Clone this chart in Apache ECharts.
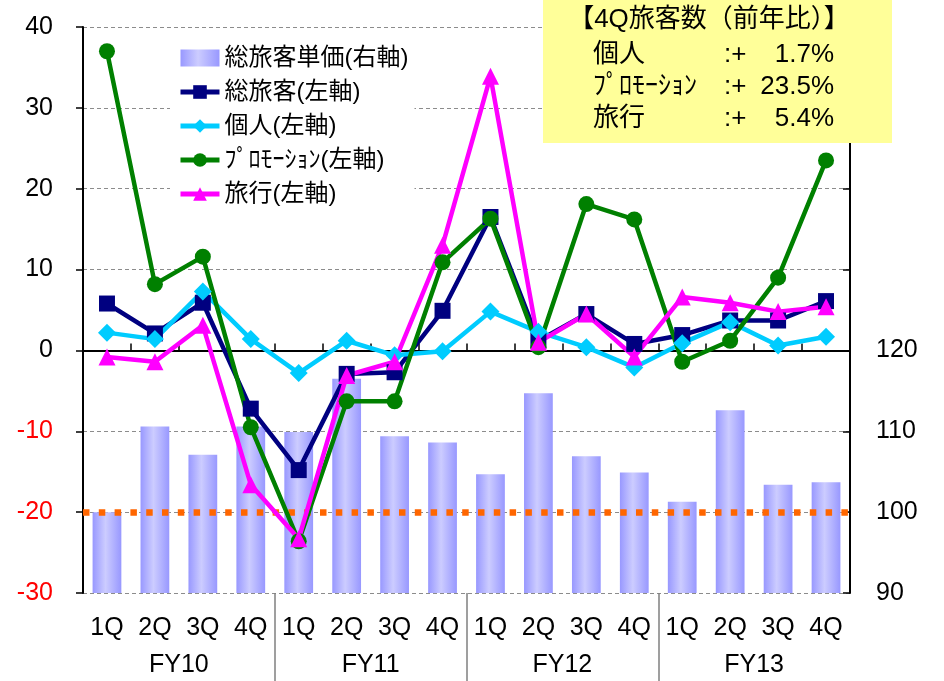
<!DOCTYPE html>
<html><head><meta charset="utf-8">
<script src="https://cdn.jsdelivr.net/npm/echarts@6/dist/echarts.min.js"></script>
<style>html,body{margin:0;padding:0;background:#fff}#c{width:944px;height:681px}</style>
</head><body><div id="c"></div>
<script>
// ---- data ----
const quarters = ['1Q','2Q','3Q','4Q','1Q','2Q','3Q','4Q','1Q','2Q','3Q','4Q','1Q','2Q','3Q','4Q'];
const fiscalYears = ['FY10','FY11','FY12','FY13'];
const unitPrice  = [100.0,110.6,107.1,110.6, 109.9,116.5,109.4,108.6, 104.7,114.7,106.9,104.9, 101.3,112.6,103.4,103.7];
const totalPax   = [5.8,2.1,5.9,-7.2, -14.8,-2.9,-2.7,4.9, 16.5,1.2,4.5,0.8, 1.9,3.7,3.7,6.1];
const individual = [2.2,1.4,7.3,1.4, -2.8,1.2,-0.6,-0.1, 4.8,2.3,0.4,-2.1, 0.9,3.5,0.6,1.7];
const promotion  = [37.0,8.2,11.6,-9.5, -23.6,-6.3,-6.3,10.9, 16.3,0.4,18.1,16.2, -1.4,1.2,9.0,23.5];
const travel     = [-0.8,-1.4,3.1,-16.6, -23.3,-3.1,-1.4,13.0, 33.9,1.0,4.5,-0.8, 6.6,5.9,4.8,5.4];
const priceBaseline = 100;
const seriesNames = ['総旅客単価(右軸)','総旅客(左軸)','個人(左軸)','ﾌﾟﾛﾓｰｼｮﾝ(左軸)','旅行(左軸)'];
const boxTitle = '【4Q旅客数（前年比）】';
const boxRows = [['個人','1.7%'],['ﾌﾟﾛﾓｰｼｮﾝ','23.5%'],['旅行','5.4%']];
const fyTickValues = [4,8,12];
const fyLabelValues = [2,6,10,14];

const FONT = "'Liberation Sans','Noto Sans CJK JP',sans-serif";
const AX = 25;
const chart = echarts.init(document.getElementById('c'), null, {renderer:'canvas'});

function lineSeries(name, data, color, symbol, size) {
  return {
    name, type:'line', data, xAxisIndex:0, yAxisIndex:0, z:3,
    symbol, symbolSize:size,
    lineStyle:{color, width:4.5},
    itemStyle:{color},
    emphasis:{disabled:true}, animation:false
  };
}

const barGrad = new echarts.graphic.LinearGradient(0,0,1,0,[
  {offset:0,color:'#9898FF'},{offset:0.45,color:'#CCCCFF'},{offset:1,color:'#9898FF'}
]);

const boxGraphics = [
  {type:'rect', left:543, top:0, z:100, shape:{width:349, height:143}, style:{fill:'#FFFF99'}},
  {type:'text', x:709, y:20, z:101, style:{text:boxTitle, font:'26px '+FONT, fill:'#000', align:'center', verticalAlign:'middle'}}
];
boxRows.forEach((r,i)=>{
  const y = 55 + i*32;
  boxGraphics.push({type:'text', x:593, y, z:101, style:{text:r[0], font:'26px '+FONT, fill:'#000', verticalAlign:'middle'}});
  boxGraphics.push({type:'text', x:724, y, z:101, style:{text:':+', font:'26px '+FONT, fill:'#000', verticalAlign:'middle'}});
  boxGraphics.push({type:'text', x:834, y, z:101, style:{text:r[1], font:'26px '+FONT, fill:'#000', align:'right', verticalAlign:'middle'}});
});

chart.setOption({
  animation:false,
  textStyle:{fontFamily:FONT},
  grid:{left:83, right:94, top:27, bottom:88, containLabel:false},
  legend:{
    orient:'vertical', left:170, top:40, itemWidth:39, itemHeight:17, itemGap:10,
    backgroundColor:'#fff', padding:[6,6,6,8],
    textStyle:{fontSize:24, color:'#000', fontFamily:FONT},
    lineStyle:{width:5},
    data:[{name:seriesNames[0], icon:'rect'}, seriesNames[1], seriesNames[2], seriesNames[3], seriesNames[4]],
    selectedMode:false
  },
  xAxis:[
    {type:'category', data:quarters, boundaryGap:true,
     axisLine:{onZero:true, onZeroAxisIndex:0, lineStyle:{color:'#000', width:2}},
     axisTick:{show:true, inside:true, length:7, lineStyle:{color:'#000', width:1.5}},
     axisLabel:{show:false}, splitLine:{show:false}},
    {type:'category', data:quarters, boundaryGap:true,
     axisLine:{show:false, onZero:true, onZeroAxisIndex:0},
     axisTick:{show:true, inside:false, length:7, lineStyle:{color:'#000', width:1.5}},
     axisLabel:{show:false}, splitLine:{show:false}},
    {type:'category', data:quarters, boundaryGap:true, position:'bottom',
     axisLine:{show:false, onZero:false}, axisTick:{show:false},
     axisLabel:{show:true, interval:0, margin:23, fontSize:AX, color:'#000', fontFamily:FONT},
     splitLine:{show:false}},
    {type:'value', min:0, max:quarters.length, position:'bottom',
     axisLine:{show:false, onZero:false},
     axisTick:{show:true, customValues:fyTickValues, length:88, inside:false, lineStyle:{color:'#808080', width:1.5}},
     axisLabel:{show:true, customValues:fyLabelValues, margin:60, fontSize:AX, color:'#000', fontFamily:FONT,
       formatter:(v)=>fiscalYears[Math.round((v-2)/4)]},
     splitLine:{show:false}}
  ],
  yAxis:[
    {type:'value', min:-30, max:40, interval:10, position:'left',
     axisLine:{show:true, lineStyle:{color:'#000', width:2}},
     axisTick:{show:true, inside:false, length:7, lineStyle:{color:'#000', width:1.5}},
     axisLabel:{margin:30, fontSize:AX, fontFamily:FONT, color:(v)=> Number(v) < 0 ? '#FF0000' : '#000'},
     splitLine:{show:true, lineStyle:{color:'#8C8C8C', width:1, type:[4,3]}}},
    {type:'value', min:90, max:160, interval:10, position:'right',
     axisLine:{show:true, lineStyle:{color:'#000', width:2}},
     axisTick:{show:true, inside:true, length:7, lineStyle:{color:'#000', width:1.5}},
     axisLabel:{margin:26, fontSize:AX, color:'#000', fontFamily:FONT, formatter:(v)=> v<=120 ? String(v) : ''},
     splitLine:{show:false}}
  ],
  series:[
    {name:seriesNames[0], type:'bar', data:unitPrice, xAxisIndex:0, yAxisIndex:1, z:1,
     barWidth:'60%', itemStyle:{color:barGrad}, emphasis:{disabled:true}, clip:true,
     markLine:{silent:true, symbol:'none', z:2, label:{show:false},
       lineStyle:{color:'#FF6600', width:6.5, type:[6.5,9.3], cap:'butt'},
       data:[{yAxis:priceBaseline}]}},
    lineSeries(seriesNames[1], totalPax, '#000080', 'rect', 16),
    lineSeries(seriesNames[2], individual, '#00CCFF', 'diamond', 18),
    lineSeries(seriesNames[3], promotion, '#008000', 'circle', 16),
    lineSeries(seriesNames[4], travel, '#FF00FF', 'triangle', 17)
  ],
  graphic:boxGraphics
});
</script></body></html>
